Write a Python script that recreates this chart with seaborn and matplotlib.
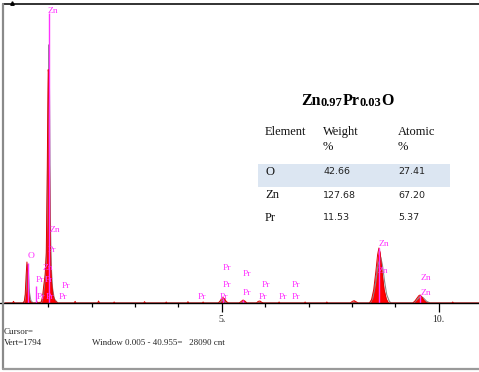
import matplotlib
matplotlib.use("Agg")
import matplotlib.pyplot as plt
import seaborn as sns
from matplotlib.lines import Line2D

# ---------------- data ----------------
red_energy = [0.00, 0.18, 0.20, 0.22,
              0.42, 0.45, 0.47, 0.49, 0.51, 0.53, 0.55, 0.57, 0.60, 0.64,
              0.72, 0.74, 0.76,
              0.84, 0.87, 0.90, 0.93, 0.955, 0.975, 0.99, 1.00, 1.01, 1.025, 1.04, 1.06, 1.08, 1.11, 1.15, 1.22,
              1.60, 1.62, 1.64, 2.14, 2.16, 2.18, 2.50, 2.52, 2.54, 3.20, 3.22, 3.24,
              3.70, 3.72, 3.74, 4.20, 4.22, 4.24, 4.55, 4.57, 4.59,
              4.92, 4.96, 5.00, 5.03, 5.06, 5.10, 5.15,
              5.40, 5.45, 5.49, 5.53, 5.58,
              5.80, 5.84, 5.88, 5.92, 5.96,
              6.30, 6.32, 6.34, 6.90, 6.92, 6.94, 7.40, 7.42, 7.44,
              7.96, 8.01, 8.05, 8.09, 8.14,
              8.40, 8.45, 8.50, 8.55, 8.59, 8.62, 8.65, 8.69, 8.74, 8.79, 8.84,
              9.40, 9.45, 9.50, 9.54, 9.57, 9.61, 9.66, 9.71, 9.76,
              10.30, 10.32, 10.34, 10.93]
red_counts = [0, 0, 10, 0,
              0, 12, 50, 160, 246, 170, 70, 20, 4, 0,
              0, 8, 0,
              5, 40, 110, 170, 300, 700, 1150, 1400, 1380, 1000, 520, 220, 120, 50, 15, 0,
              0, 10, 0, 0, 12, 0, 0, 6, 0, 0, 8, 0,
              0, 6, 0, 0, 8, 0, 0, 6, 0,
              0, 12, 28, 32, 26, 10, 0,
              0, 10, 18, 12, 0,
              0, 10, 12, 4, 0,
              0, 6, 0, 0, 6, 0, 0, 6, 0,
              0, 10, 14, 8, 0,
              0, 20, 80, 190, 290, 330, 300, 190, 80, 25, 0,
              0, 12, 30, 44, 48, 36, 16, 4, 0,
              0, 6, 0, 0]

gray_energy = [0.00, 0.42, 0.46, 0.49, 0.52, 0.545, 0.57, 0.60, 0.65,
               0.85, 0.89, 0.93, 0.96, 0.985, 1.005, 1.02, 1.035, 1.05, 1.07, 1.10, 1.14, 1.22,
               4.95, 5.03, 5.10,
               8.42, 8.48, 8.54, 8.60, 8.66, 8.70, 8.75, 8.80, 8.86, 8.90,
               9.42, 9.50, 9.58, 9.64, 9.72, 9.80, 10.93]
gray_counts = [0, 0, 10, 80, 230, 180, 60, 15, 0,
               5, 50, 150, 280, 800, 1300, 1550, 1100, 500, 220, 90, 25, 0,
               0, 20, 0,
               0, 30, 110, 230, 276, 230, 130, 50, 10, 0,
               0, 20, 40, 32, 10, 0, 0]

marker_energy = [1.01, 0.525, 0.72, 8.63, 9.57, 5.03, 5.49]
marker_top = [1740, 240, 100, 330, 48, 30, 18]

label_text = ["Zn", "O", "Zn", "Pr", "Zn", "Pr", "Pr", "Pr", "Pr", "Pr", "Pr",
              "Pr", "Pr", "Pr", "Pr", "Pr", "Pr", "Pr", "Pr", "Pr", "Pr", "Pr",
              "Zn", "Zn", "Zn", "Zn"]
label_energy = [0.995, 0.535, 1.04, 0.995, 0.88, 0.72, 0.92, 1.32, 1.23, 0.74, 0.95,
                5.03, 5.49, 5.01, 5.93, 6.60, 4.45, 4.94, 5.49, 5.86, 6.32, 6.62,
                8.62, 8.60, 9.57, 9.57]
label_counts = [1752, 282, 438, 318, 210, 138, 138, 102, 36, 36, 36,
                210, 174, 108, 108, 108, 36, 36, 60, 36, 36, 36,
                354, 192, 150, 60]

major_ticks = [5, 10]
major_labels = ["5.", "10."]
minor_ticks = [1, 2, 3, 4, 6, 7, 8, 9]

table_title = [("Zn", 11.5), ("0.97", 9), ("Pr", 11.5), ("0.03", 9), ("O", 11.5)]
table_header = ["Element", "Weight\n%", "Atomic\n%"]
table_elements = ["O", "Zn", "Pr"]
table_weight = ["42.66", "127.68", "11.53"]
table_atomic = ["27.41", "67.20", "5.37"]

status_cursor = "Cursor="
status_vert = "Vert=1794"
status_window = "Window 0.005 - 40.955=   28090 cnt"

# ---------------- drawing ----------------
sns.set_theme(style="white")
plt.rcParams["font.family"] = ["Liberation Serif", "DejaVu Serif"]

W, H = 479, 372
fig = plt.figure(figsize=(W / 100, H / 100), dpi=100)
fig.patch.set_facecolor("white")

def fx(x):
    return x / W

def fy(y):
    return 1 - y / H

x0_px, px_per_kev, base_px, top_px = 4.8, 43.4, 303, 4
ax = fig.add_axes([0, fy(base_px), 1, (base_px - top_px) / H])
ax.set_facecolor("none")
ax.set_xlim(-x0_px / px_per_kev, (W - x0_px) / px_per_kev)
ax.set_ylim(0, 1794)

ax.fill_between(red_energy, red_counts, 0, color="#ff0000", lw=0, zorder=2)
sns.lineplot(x=gray_energy, y=gray_counts, ax=ax, color="#8a8a8a", lw=0.8,
             sort=False, estimator=None, zorder=3)
sns.lineplot(x=red_energy, y=red_counts, ax=ax, color="#e00000", lw=0.7,
             sort=False, estimator=None, zorder=4)
ax.vlines(marker_energy, 0, marker_top, color="#ff33ff", lw=1.0, zorder=5)

for t, e, c in zip(label_text, label_energy, label_counts):
    ax.text(e, c, t, color="#ff33ff", fontsize=6.8, ha="left", va="center",
            family="Liberation Serif", zorder=6)

ax.axhline(0, color="black", lw=1.0, zorder=7, clip_on=False)
for s in ax.spines.values():
    s.set_visible(False)
ax.set_yticks([])
ax.set_xticks(major_ticks)
ax.set_xticklabels(major_labels, fontsize=7, family="Liberation Serif")
ax.set_xticks(minor_ticks, minor=True)
ax.tick_params(axis="x", which="major", direction="out", length=6.5, width=0.9,
               color="black", pad=2, bottom=True)
ax.tick_params(axis="x", which="minor", direction="out", length=3, width=0.9,
               color="black", bottom=True)
ax.set_xlabel("")
ax.set_ylabel("")

# frame lines
fig.add_artist(Line2D([fx(3), 1], [fy(4), fy(4)], color="#222222", lw=1.3))
fig.add_artist(Line2D([fx(3), fx(3)], [fy(4), fy(369)], color="#8a8a8a", lw=1.6))
fig.add_artist(Line2D([fx(3), 1], [fy(368.5), fy(368.5)], color="#9a9a9a", lw=1.6))
fig.add_artist(Line2D([fx(12)], [fy(3)], marker="^", markersize=2.5, color="black", lw=0))

# status text
fig.text(fx(4), fy(332), status_cursor, fontsize=6.5, va="center", ha="left")
fig.text(fx(4), fy(343), status_vert, fontsize=6.5, va="center", ha="left")
fig.text(fx(92), fy(343), status_window, fontsize=6.5, va="center", ha="left")

# table band
fig.add_artist(plt.Rectangle((fx(258), fy(187)), fx(450) - fx(258), (187 - 164) / H,
                             color="#dce6f2", lw=0, zorder=0))

# title with smaller digits, laid out left to right
renderer = fig.canvas.get_renderer()
cur_x = 301.0
for t, s in table_title:
    big = s > 10
    txt = fig.text(fx(cur_x), fy(105 if big else 106), t, fontsize=s, fontweight="bold",
                   ha="left", va="baseline", color="black")
    bb = txt.get_window_extent(renderer)
    cur_x += bb.width

col_x = [265, 323, 398]
for t, xp in zip(table_header, col_x):
    fig.text(fx(xp), fy(126), t, fontsize=9, ha="left", va="top",
             linespacing=1.3, color="#111111")

row_y = [172, 195, 218]
for el, wv, av, yp in zip(table_elements, table_weight, table_atomic, row_y):
    fig.text(fx(265), fy(yp), el, fontsize=9, ha="left", va="center", color="#111111")
    fig.text(fx(323), fy(yp), wv, fontsize=6.8, ha="left", va="center",
             family="DejaVu Sans", color="#222222")
    fig.text(fx(398), fy(yp), av, fontsize=6.8, ha="left", va="center",
             family="DejaVu Sans", color="#222222")

fig.savefig("out.png", dpi=100)
